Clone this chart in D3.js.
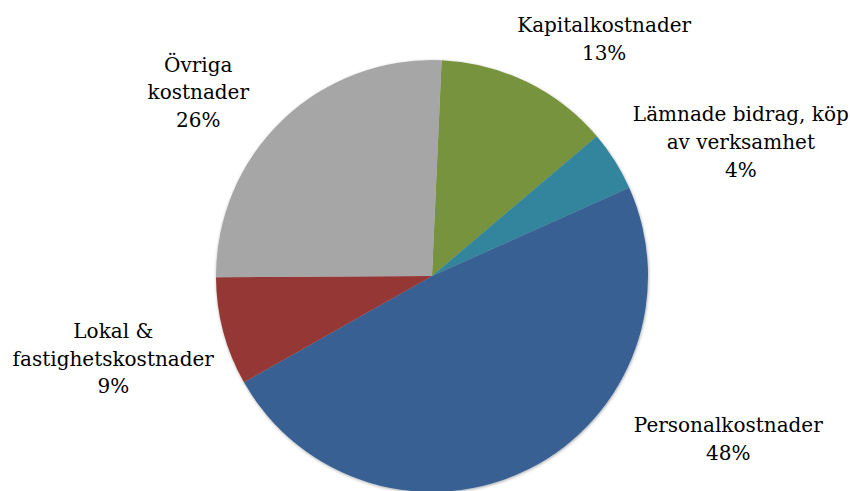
<!DOCTYPE html>
<html>
<head>
<meta charset="utf-8">
<script src="https://cdn.jsdelivr.net/npm/d3@7"></script>
<style>
  body { margin: 0; background: #fff; }
  .etiqueta { font-family: "DejaVu Serif", serif; font-size: 20px; fill: #000; }
</style>
</head>
<body>
<div id="graf"></div>
<script>
// datos del grafico (orden horario desde arriba)
const categorias = ["Kapitalkostnader", "Lämnade bidrag, köp av verksamhet", "Personalkostnader", "Lokal & fastighetskostnader", "Övriga kostnader"];
const valores = [13.1, 4.5, 48.5, 8.1, 25.8];
const etiquetasPct = ["13%", "4%", "48%", "9%", "26%"];
const lineasEtiqueta = [
  ["Kapitalkostnader"],
  ["Lämnade bidrag, köp", "av verksamhet"],
  ["Personalkostnader"],
  ["Lokal &", "fastighetskostnader"],
  ["Övriga", "kostnader"]
];
const colores = ["#77933C", "#31859C", "#376092", "#953735", "#A6A6A6"];

// Dimensiones
const anchoTotal = 850;
const altoTotal = 491;
const cx = 432, cy = 276, radio = 216;
const inicio = 2.56 * Math.PI / 180;

// desplazamiento de cada etiqueta respecto al borde del sector
const desplaz = [[77, -43], [126, -19], [199, -30], [-110, 27], [-84, -28]];
const altoLinea = 27.6;

const svg = d3.select("#graf")
  .append("svg")
  .attr("width", anchoTotal)
  .attr("height", altoTotal);

const defs = svg.append("defs");
defs.append("filter")
  .attr("id", "sombra")
  .attr("x", "-10%").attr("y", "-10%")
  .attr("width", "120%").attr("height", "120%")
  .append("feDropShadow")
  .attr("dx", 0.5).attr("dy", 1)
  .attr("stdDeviation", 1.5)
  .attr("flood-color", "#000")
  .attr("flood-opacity", 0.35);

const g = svg.append("g")
  .attr("transform", `translate(${cx}, ${cy})`);

const pie = d3.pie()
  .value((d) => d)
  .sort(null)
  .startAngle(inicio)
  .endAngle(inicio + 2 * Math.PI);

const arcos = pie(valores);

const arc = d3.arc().innerRadius(0).outerRadius(radio);

g.append("g")
  .attr("filter", "url(#sombra)")
  .selectAll("path")
  .data(arcos)
  .enter()
  .append("path")
  .attr("d", arc)
  .attr("fill", (d, i) => colores[i]);

// etiquetas
arcos.forEach((d, i) => {
  const a = (d.startAngle + d.endAngle) / 2;
  const px = radio * Math.sin(a) + desplaz[i][0];
  const py = -radio * Math.cos(a) + desplaz[i][1];
  const lineas = lineasEtiqueta[i].concat([etiquetasPct[i]]);
  const n = lineas.length;
  const t = g.append("text")
    .attr("class", "etiqueta")
    .attr("text-anchor", "middle");
  lineas.forEach((l, j) => {
    t.append("tspan")
      .attr("x", px)
      .attr("y", py + (j - (n - 1) / 2) * altoLinea + 7)
      .text(l);
  });
});
</script>
</body>
</html>
